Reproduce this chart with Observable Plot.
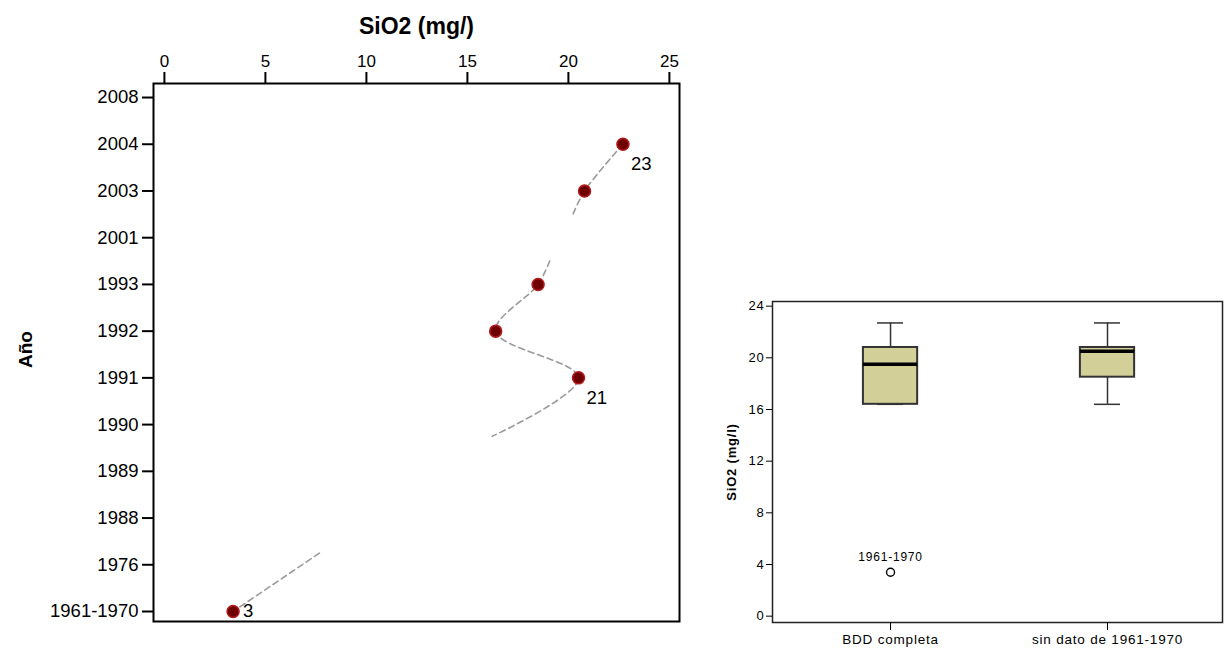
<!DOCTYPE html>
<html>
<head>
<meta charset="utf-8">
<script src="https://cdn.jsdelivr.net/npm/d3@7"></script>
<script src="https://cdn.jsdelivr.net/npm/@observablehq/plot@0.6"></script>
<style>
  body { margin: 0; background: #fff; }
  #wrap { position: relative; width: 1225px; height: 654px; overflow: hidden; background: #fff; }
  #left { position: absolute; left: 0; top: 0; }
  #right { position: absolute; left: 700px; top: 0; }
</style>
</head>
<body>
<div id="wrap"><div id="left"></div><div id="right"></div></div>
<script>
// Year categories, bottom to top on the left panel
const years = ["1961-1970", "1976", "1988", "1989", "1990", "1991", "1992", "1993", "2001", "2003", "2004", "2008"];
// Sampled years and their SiO2 (mg/l)
const obsYears = ["2004", "2003", "1993", "1992", "1991", "1961-1970"];
const sio2 = [22.7, 20.8, 18.5, 16.4, 20.5, 3.4];
// Years whose value is written next to the point
const labeledYears = ["2004", "1991", "1961-1970"];
// Box plot groups
const groups = ["BDD completa", "sin dato de 1961-1970"];
const excludedYear = "1961-1970";
// Tick values
const xTicksLeft = [0, 5, 10, 15, 20, 25];
const yTicksRight = [0, 4, 8, 12, 16, 20, 24];

const font = '"Liberation Sans", Arial, sans-serif';

// ---------- left panel: SiO2 by year ----------
const pts = obsYears
  .map((y, i) => ({year: y, idx: years.indexOf(y), v: sio2[i]}))
  .sort((a, b) => b.idx - a.idx);

// The connecting line is broken across empty years: only the first and
// last quarter of a segment spanning missing categories is drawn.
const runs = [];
let cur = [];
for (let k = 0; k < pts.length; k++) {
  const p = pts[k], n = pts[k + 1];
  cur.push({idx: p.idx, v: p.v});
  if (n && p.idx - n.idx > 1) {
    cur.push({idx: p.idx + 0.25 * (n.idx - p.idx), v: p.v + 0.25 * (n.v - p.v)});
    runs.push(cur);
    cur = [{idx: n.idx + 0.25 * (p.idx - n.idx), v: n.v + 0.25 * (p.v - n.v)}];
  }
}
runs.push(cur);
const lineData = runs.flatMap((r, i) => r.map(d => ({...d, run: i})));

const labeled = pts.filter(d => labeledYears.includes(d.year));
const bottomRow = labeled.filter(d => d.idx === 0);   // label sits to the right
const otherRows = labeled.filter(d => d.idx !== 0);   // label sits below-right

const left = Plot.plot({
  width: 700,
  height: 654,
  marginLeft: 153,
  marginRight: 21,
  marginTop: 83,
  marginBottom: 33,
  style: {fontFamily: font, color: "black", background: "white"},
  x: {domain: [-0.54, 25.5]},
  y: {domain: [-0.214, 11.3]},
  marks: [
    Plot.frame({stroke: "black", strokeWidth: 2}),
    Plot.axisX(xTicksLeft, {anchor: "top", tickSize: 12, tickPadding: 5, fontSize: 17, strokeWidth: 2, label: null}),
    Plot.axisY(d3.range(years.length), {anchor: "left", tickFormat: i => years[i], tickSize: 11, tickPadding: 4, fontSize: 18.5, strokeWidth: 2, label: null}),
    Plot.line(lineData, {x: "v", y: "idx", z: "run", curve: "catmull-rom", stroke: "#9a9a9a", strokeWidth: 1.6, strokeDasharray: "6,4"}),
    Plot.dot(pts, {x: "v", y: "idx", r: 6, fill: "#6e0000", stroke: "#b3191c", strokeWidth: 1.5}),
    Plot.text(otherRows, {x: "v", y: "idx", text: d => String(Math.round(d.v)), textAnchor: "start", dx: 8, dy: 20, fontSize: 18.5}),
    Plot.text(bottomRow, {x: "v", y: "idx", text: d => String(Math.round(d.v)), textAnchor: "start", dx: 10, dy: 0, fontSize: 18.5}),
    Plot.text(["SiO2 (mg/)"], {frameAnchor: "top", textAnchor: "middle", dy: -66, fontWeight: "bold", fontSize: 23}),
    Plot.text(["Año"], {frameAnchor: "left", textAnchor: "middle", dx: -128, dy: -3, rotate: -90, fontWeight: "bold", fontSize: 19})
  ]
});
document.getElementById("left").appendChild(left);

// ---------- right panel: box plots ----------
function tukey(values) {
  const s = values.slice().sort((a, b) => a - b);
  const n = s.length;
  const med = d3.median(s);
  const h = Math.ceil(n / 2);
  const q1 = d3.median(s.slice(0, h));
  const q3 = d3.median(s.slice(n - h));
  const iqr = q3 - q1;
  const inside = s.filter(v => v >= q1 - 1.5 * iqr && v <= q3 + 1.5 * iqr);
  return {q1, med, q3, lo: d3.min(inside), hi: d3.max(inside), out: s.filter(v => !inside.includes(v))};
}
const groupValues = [
  sio2,
  sio2.filter((v, i) => obsYears[i] !== excludedYear)
];
const boxes = groupValues.map((vals, i) => ({pos: i, ...tukey(vals)}));
const outliers = boxes.flatMap(b => b.out.map(v => ({pos: b.pos, v, label: obsYears[sio2.indexOf(v)]})));

const bw = 0.125, cw = 0.06;
const right = Plot.plot({
  width: 525,
  height: 654,
  marginLeft: 72,
  marginRight: 3,
  marginTop: 301,
  marginBottom: 32,
  style: {fontFamily: font, color: "black", background: "white", letterSpacing: "0.8px"},
  x: {domain: [-0.544, 1.53]},
  y: {domain: [-0.49, 24.36]},
  marks: [
    Plot.ruleX(boxes, {x: "pos", y1: "lo", y2: "q1", stroke: "#333", strokeWidth: 1.5}),
    Plot.ruleX(boxes, {x: "pos", y1: "q3", y2: "hi", stroke: "#333", strokeWidth: 1.5}),
    Plot.ruleY(boxes, {y: "lo", x1: d => d.pos - cw, x2: d => d.pos + cw, stroke: "#333", strokeWidth: 1.5}),
    Plot.ruleY(boxes, {y: "hi", x1: d => d.pos - cw, x2: d => d.pos + cw, stroke: "#333", strokeWidth: 1.5}),
    Plot.rect(boxes, {x1: d => d.pos - bw, x2: d => d.pos + bw, y1: "q1", y2: "q3", fill: "#d3cf99", stroke: "#333", strokeWidth: 2}),
    Plot.ruleY(boxes, {y: "med", x1: d => d.pos - bw, x2: d => d.pos + bw, stroke: "black", strokeWidth: 3.5}),
    Plot.dot(outliers, {x: "pos", y: "v", r: 4, fill: "white", stroke: "black", strokeWidth: 1.4}),
    Plot.text(outliers, {x: "pos", y: "v", text: "label", dy: -15, fontSize: 12}),
    Plot.frame({stroke: "#222", strokeWidth: 1.5}),
    Plot.axisY(yTicksRight, {tickSize: 6, tickPadding: 2, fontSize: 13, label: null}),
    Plot.axisX([0, 1], {tickFormat: i => groups[i], tickSize: 8, tickPadding: 4, fontSize: 13.5, label: null}),
    Plot.text(["SiO2 (mg/l)"], {frameAnchor: "left", textAnchor: "middle", dx: -41, rotate: -90, fontWeight: "bold", fontSize: 13})
  ]
});
document.getElementById("right").appendChild(right);
</script>
</body>
</html>
